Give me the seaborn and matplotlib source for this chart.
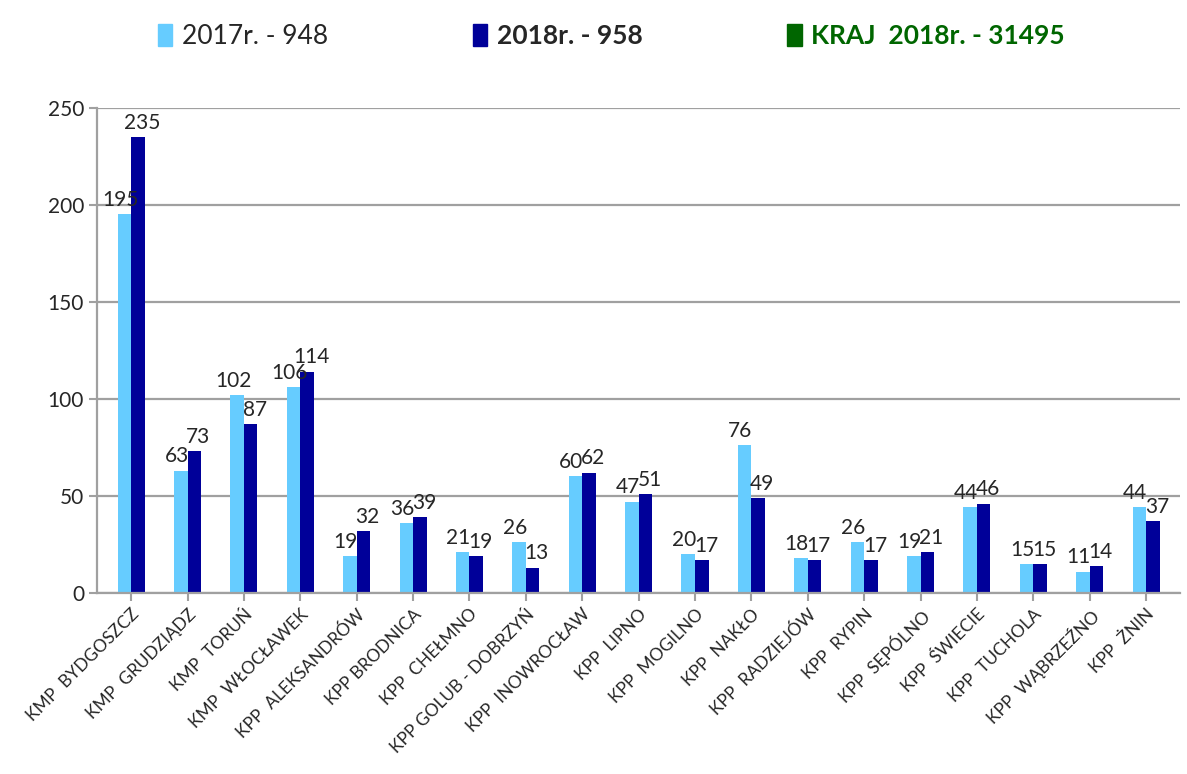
import pandas as pd
import matplotlib
matplotlib.use("Agg")
import matplotlib.pyplot as plt
from matplotlib.patches import Patch
import seaborn as sns

units = ['KMP  BYDGOSZCZ', 'KMP  GRUDZIĄDZ', 'KMP  TORUŃ', 'KMP  WŁOCŁAWEK',
         'KPP  ALEKSANDRÓW', 'KPP BRODNICA', 'KPP  CHEŁMNO', 'KPP GOLUB - DOBRZYŃ',
         'KPP  INOWROCŁAW', 'KPP  LIPNO', 'KPP  MOGILNO', 'KPP  NAKŁO',
         'KPP  RADZIEJÓW', 'KPP  RYPIN', 'KPP  SĘPÓLNO', 'KPP  ŚWIECIE',
         'KPP  TUCHOLA', 'KPP  WĄBRZEŹNO', 'KPP  ŻNIN']
v2017 = [195, 63, 102, 106, 19, 36, 21, 26, 60, 47, 20, 76, 18, 26, 19, 44, 15, 11, 44]
v2018 = [235, 73, 87, 114, 32, 39, 19, 13, 62, 51, 17, 49, 17, 17, 21, 46, 15, 14, 37]
legend_labels = ['2017r. - 948', '2018r. - 958', 'KRAJ  2018r. - 31495']

light = '#66CCFF'
dark = '#000099'
green = '#006600'

df = pd.DataFrame({'jednostka': units * 2,
                   'wartosc': v2017 + v2018,
                   'rok': ['2017'] * len(units) + ['2018'] * len(units)})

sns.set_style('white')
plt.rcParams['font.family'] = ['Lato', 'DejaVu Sans']

fig = plt.figure(figsize=(11.87, 7.74), dpi=100)
ax = fig.add_axes([0.082, 0.234, 0.912, 0.627])

sns.barplot(data=df, x='jednostka', y='wartosc', hue='rok',
            palette=[light, dark], width=0.48, ax=ax, legend=False,
            edgecolor='none', saturation=1)

# value labels, nudged apart a little so the pairs read better
for cont, dx in zip(ax.containers, [-3, 3]):
    for bar in cont:
        h = bar.get_height()
        ax.annotate(f'{int(h)}', (bar.get_x() + bar.get_width() / 2, h),
                    xytext=(dx, 3), textcoords='offset points',
                    ha='center', va='bottom', fontsize=15)

ax.set_ylim(0, 250)
ax.set_yticks(range(0, 251, 50))
ax.set_xlim(-0.6, len(units) - 0.4)
ax.yaxis.grid(True, color='#A0A0A0', linewidth=1.6)
ax.set_axisbelow(True)
ax.set_xlabel('')
ax.set_ylabel('')
for s in ['top', 'right']:
    ax.spines[s].set_visible(False)
for s in ['left', 'bottom']:
    ax.spines[s].set_color('#A0A0A0')
    ax.spines[s].set_linewidth(1.6)
ax.tick_params(axis='y', labelsize=15, length=6, color='#A0A0A0', width=1.5, direction='out', left=True)
ax.tick_params(axis='x', labelsize=12.5, length=6, color='#A0A0A0', width=1.5, direction='out', bottom=True)
plt.setp(ax.get_xticklabels(), rotation=45, ha='right', rotation_mode='anchor')

handles = [Patch(color=light), Patch(color=dark), Patch(color=green)]
leg = fig.legend(handles, legend_labels, loc='upper center', bbox_to_anchor=(0.515, 1.0),
                 ncol=3, frameon=False, fontsize=19, handlelength=0.55, handleheight=0.9,
                 handletextpad=0.35, columnspacing=5.5)
txts = leg.get_texts()
txts[1].set_fontweight('bold')
txts[2].set_fontweight('bold')
txts[2].set_color(green)

fig.savefig('out.png', dpi=100)
